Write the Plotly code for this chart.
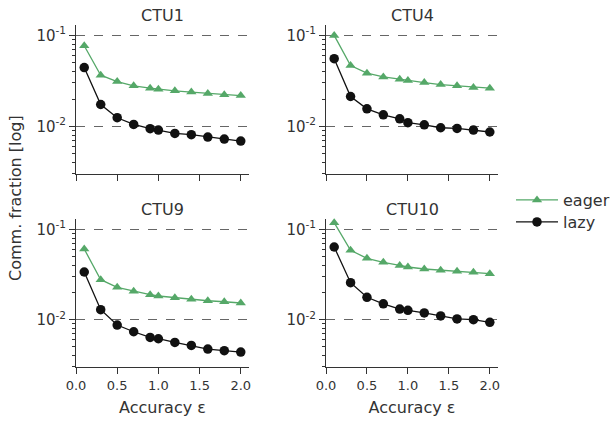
import plotly.graph_objects as go

eps = [0.1, 0.3, 0.5, 0.7, 0.9, 1.0, 1.2, 1.4, 1.6, 1.8, 2.0]

titles = ["CTU1", "CTU4", "CTU9", "CTU10"]

eager_ctu1 = [0.077, 0.0365, 0.0311, 0.0279, 0.0263, 0.0256, 0.0246, 0.0238, 0.0230, 0.0222, 0.0218]
lazy_ctu1 = [0.0443, 0.0174, 0.01245, 0.01052, 0.00943, 0.00912, 0.00838, 0.00811, 0.00764, 0.00726, 0.00690]

eager_ctu4 = [0.100, 0.0466, 0.0384, 0.0350, 0.0330, 0.0319, 0.0303, 0.0288, 0.0279, 0.0267, 0.0263]
lazy_ctu4 = [0.0555, 0.0213, 0.0156, 0.0134, 0.0121, 0.0110, 0.0104, 0.00966, 0.0095, 0.00912, 0.00868]

eager_ctu9 = [0.0605, 0.0277, 0.0228, 0.0206, 0.0189, 0.0183, 0.0175, 0.0168, 0.0162, 0.0158, 0.0153]
lazy_ctu9 = [0.0337, 0.0129, 0.00873, 0.00736, 0.00637, 0.00616, 0.00561, 0.0052, 0.00474, 0.00454, 0.00439]

eager_ctu10 = [0.1185, 0.0586, 0.0478, 0.0431, 0.0399, 0.0383, 0.0364, 0.0352, 0.0343, 0.0334, 0.0323]
lazy_ctu10 = [0.0637, 0.0257, 0.0177, 0.0150, 0.0131, 0.0127, 0.0119, 0.0110, 0.0102, 0.0100, 0.00935]

eager_all = [eager_ctu1, eager_ctu4, eager_ctu9, eager_ctu10]
lazy_all = [lazy_ctu1, lazy_ctu4, lazy_ctu9, lazy_ctu10]

x_tickvals = [0.0, 0.5, 1.0, 1.5, 2.0]
x_ticktext = ["0.0", "0.5", "1.0", "1.5", "2.0"]
y_tickvals = [0.01, 0.1]
y_ticktext = ["10<sup>-2</sup>", "10<sup>-1</sup>"]
y_minor = [0.003, 0.004, 0.005, 0.006, 0.007, 0.008, 0.009,
           0.02, 0.03, 0.04, 0.05, 0.06, 0.07, 0.08, 0.09]

GREEN = "#55a868"
BLACK = "#111111"
AX = "#333333"
FONT = "DejaVu Sans"
W, H = 613, 421

# pixel boxes (left, right, top, bottom)
boxes = [(76, 249, 25, 174), (326, 498, 25, 174), (76, 249, 219, 367), (326, 498, 219, 367)]

fig = go.Figure()
for i in range(4):
    l, r, t, b = boxes[i]
    xa = "xaxis" if i == 0 else f"xaxis{i+1}"
    ya = "yaxis" if i == 0 else f"yaxis{i+1}"
    xr = "x" if i == 0 else f"x{i+1}"
    yr = "y" if i == 0 else f"y{i+1}"
    fig.add_trace(go.Scatter(x=eps, y=eager_all[i], mode="lines+markers", name="eager",
                             line=dict(color=GREEN, width=1.3),
                             marker=dict(symbol="triangle-up", size=9, color=GREEN),
                             showlegend=(i == 0), legend="legend",
                             xaxis=xr, yaxis=yr, cliponaxis=False))
    fig.add_trace(go.Scatter(x=eps, y=lazy_all[i], mode="lines+markers", name="lazy",
                             line=dict(color=BLACK, width=1.3),
                             marker=dict(symbol="circle", size=9.5, color=BLACK),
                             showlegend=(i == 0), legend="legend2",
                             xaxis=xr, yaxis=yr, cliponaxis=False))
    bottom = i >= 2
    fig.layout[xa] = dict(domain=[l / W, r / W], range=[0, 2.1], anchor=yr, automargin=False,
                          tickvals=x_tickvals, ticktext=x_ticktext,
                          showticklabels=bottom, ticks="outside", ticklen=6, tickcolor=AX,
                          showline=True, linecolor=AX, linewidth=1, showgrid=False, zeroline=False,
                          tickfont=dict(size=13, color="#333"),
                          title=dict(text="Accuracy ε" if bottom else "", font=dict(size=16, color="#333"),
                                     standoff=10))
    fig.layout[ya] = dict(domain=[1 - b / H, 1 - t / H], type="log", automargin=False,
                          range=[-2.523, -0.886], anchor=xr,
                          tickvals=y_tickvals, ticktext=y_ticktext,
                          ticks="outside", ticklen=6, tickcolor=AX,
                          showline=True, linecolor=AX, linewidth=1,
                          showgrid=True, gridcolor="#666", griddash="dash", gridwidth=1,
                          zeroline=False, tickfont=dict(size=15, color="#333"),
                          minor=dict(tickvals=y_minor, ticks="outside", ticklen=3,
                                     tickcolor=AX, showgrid=False))
    fig.add_annotation(text=titles[i], x=(l + r) / 2 / W, y=1 - (t - 10) / H,
                       xref="paper", yref="paper", showarrow=False,
                       font=dict(size=16, color="#333"), yanchor="middle", xanchor="center")

fig.add_annotation(text="Comm. fraction [log]", x=15 / W, y=1 - 198 / H, xref="paper", yref="paper",
                   showarrow=False, textangle=-90, font=dict(size=16, color="#333"),
                   xanchor="center", yanchor="middle")

leg_common = dict(xanchor="left", yanchor="middle", font=dict(size=16, color="#333"),
                  bgcolor="rgba(0,0,0,0)", itemwidth=42)
fig.update_layout(width=W, height=H, margin=dict(l=0, r=0, t=0, b=0, autoexpand=False),
                  paper_bgcolor="white", plot_bgcolor="white",
                  font=dict(family=FONT, color="#333"),
                  legend=dict(x=511 / W, y=1 - 200 / H, **leg_common),
                  legend2=dict(x=511 / W, y=1 - 222 / H, **leg_common))

fig.write_html("out.html", config={"displayModeBar": False},
               post_script="document.body.style.margin='0';document.body.style.padding='0';")
